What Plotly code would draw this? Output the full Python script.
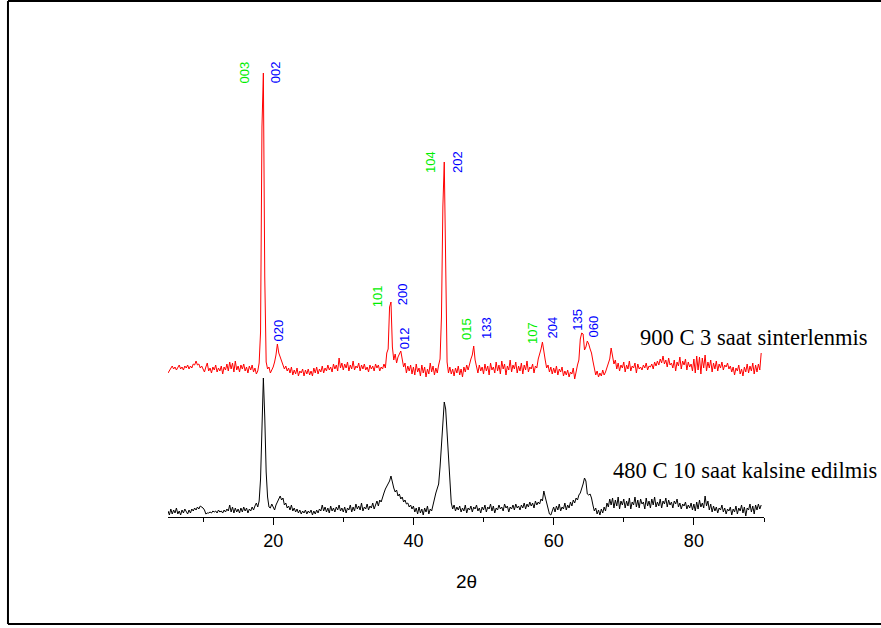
import plotly.graph_objects as go

# 2-theta grid: start and step of the measured points
theta_start = 5.0
theta_step = 0.2

# 900 C 3 saat sinterlenmis (intensity, arbitrary units)
red_counts = [
    4, 6, 9, 11, 8, 10, 7, 9, 12, 8, 10, 7, 11, 9, 12, 8, 11, 9, 13, 12, 16, 12, 13, 9, 11,
    8, 5, 10, 14, 6, 9, 4, 10, 7, 12, 5, 9, 6, 11, 3, 10, 7, 13, 6, 15, 8, 14, 5, 16, 7,
    11, 5, 12, 8, 13, 6, 10, 4, 11, 7, 12, 5, 9, 3, 6, 14, 45, 250, 304, 100, 15, 8, 10, 4, 7,
    10, 15, 22, 33, 24, 20, 16, 13, 8, 11, 6, 9, 4, 10, 2, 7, 3, 9, 1, 6, 4, 8, 1, 7, 3,
    8, 2, 6, 1, 9, 4, 10, 3, 8, 5, 11, 4, 9, 6, 12, 7, 10, 5, 13, 8, 12, 6, 19, 9, 14,
    7, 13, 9, 15, 6, 12, 8, 16, 7, 11, 9, 14, 6, 12, 8, 13, 7, 10, 5, 12, 8, 11, 6, 13, 9,
    12, 6, 10, 8, 13, 9, 24, 28, 70, 75, 30, 17, 23, 14, 20, 24, 26, 18, 10, 14, 4, 11, 6, 12, 3,
    10, 2, 13, 5, 9, 1, 12, 4, 10, 0, 8, 3, 14, 5, 11, 2, 9, 4, 12, 18, 60, 170, 215, 95, 15,
    4, 10, 3, 8, 1, 9, 4, 11, 2, 8, 0, 10, 5, 12, 7, 14, 18, 22, 31, 17, 9, 4, 12, 6, 10,
    3, 13, 6, 11, 2, 14, 7, 10, 4, 15, 6, 12, 3, 16, 8, 13, 2, 11, 7, 17, 5, 12, 8, 15, 4,
    11, 6, 14, 3, 12, 7, 16, 5, 10, 8, 13, 4, 11, 9, 18, 22, 28, 35, 24, 17, 9, 12, 5, 10, 3,
    9, 4, 11, 2, 8, 5, 10, 1, 6, 2, 7, 0, 5, 3, 9, -2, 6, 12, 17, 38, 44, 43, 27, 30, 36,
    33, 28, 24, 16, 8, 2, 6, 0, 4, 1, 7, 2, 5, 9, 14, 18, 29, 22, 13, 17, 8, 14, 6, 12, 9,
    15, 5, 12, 8, 16, 6, 11, 9, 14, 4, 13, 8, 10, 7, 12, 9, 14, 7, 11, 10, 13, 8, 15, 11, 16,
    12, 18, 14, 21, 13, 17, 10, 19, 12, 14, 9, 17, 6, 15, 11, 20, 8, 16, 12, 18, 7, 15, 10, 13, 6,
    18, 4, 21, 7, 20, 3, 19, 9, 22, 6, 15, 9, 17, 5, 14, 8, 16, 6, 13, 9, 15, 7, 12, 10, 14,
    8, 11, 5, 10, 2, 9, 6, 12, 3, 8, 1, 10, 5, 13, 4, 11, 6, 14, 3, 12, 5, 13, 7, 24,
]

# 480 C 10 saat kalsine edilmis (intensity, arbitrary units)
black_counts = [
    6, 2, 8, 3, 7, 4, 9, 3, 6, 2, 7, 4, 8, 5, 3, 7, 4, 8, 6, 9, 7, 10, 8, 11, 10,
    9, 7, 3, 4, 4, 5, 4, 6, 5, 6, 4, 7, 5, 6, 4, 7, 5, 8, 6, 12, 5, 10, 4, 9, 5,
    8, 4, 9, 5, 10, 6, 9, 4, 8, 6, 10, 7, 11, 14, 10, 16, 38, 85, 139, 100, 45, 20, 10, 9, 13,
    10, 7, 12, 15, 19, 21, 17, 19, 12, 14, 9, 11, 7, 12, 6, 9, 5, 8, 4, 7, 3, 6, 4, 7, 3,
    6, 4, 7, 2, 6, 3, 7, 4, 8, 6, 12, 6, 10, 5, 9, 4, 11, 6, 9, 5, 10, 7, 12, 6, 9,
    5, 10, 4, 9, 7, 12, 5, 10, 6, 13, 8, 11, 7, 14, 6, 10, 8, 13, 7, 11, 9, 14, 8, 12, 16,
    11, 17, 15, 21, 24, 28, 31, 34, 36, 41, 33, 29, 25, 27, 21, 23, 18, 20, 15, 17, 13, 14, 10, 12, 8,
    11, 5, 9, 3, 10, 4, 8, 2, 9, 5, 11, 3, 8, 6, 14, 18, 24, 29, 33, 50, 72, 98, 115, 108, 82,
    58, 28, 14, 8, 12, 6, 10, 7, 11, 5, 9, 6, 12, 4, 9, 7, 11, 5, 10, 8, 12, 6, 9, 4, 10,
    7, 12, 5, 10, 8, 13, 6, 11, 4, 9, 7, 12, 8, 10, 6, 13, 9, 11, 5, 10, 8, 12, 7, 13, 9,
    11, 7, 12, 9, 14, 8, 13, 10, 15, 11, 14, 9, 16, 12, 15, 13, 18, 16, 26, 20, 15, 8, 3, 2, 6,
    10, 5, 11, 7, 13, 6, 10, 8, 14, 7, 12, 9, 15, 11, 17, 14, 19, 17, 22, 24, 28, 33, 39, 36, 23,
    22, 23, 19, 12, 6, 9, 3, 7, 2, 8, 4, 10, 6, 14, 10, 18, 12, 19, 9, 17, 11, 20, 8, 16, 12,
    18, 9, 16, 11, 19, 8, 15, 12, 20, 10, 17, 9, 18, 13, 15, 8, 19, 11, 16, 9, 18, 12, 20, 10, 15,
    11, 18, 9, 16, 13, 19, 10, 17, 12, 15, 9, 16, 13, 18, 10, 14, 8, 13, 11, 15, 8, 12, 9, 14, 7,
    13, 6, 15, 8, 17, 10, 14, 9, 21, 11, 16, 7, 13, 5, 11, 6, 10, 4, 9, 7, 12, 5, 9, 3, 8,
    6, 10, 2, 8, 5, 11, 3, 9, 6, 12, 4, 10, 1, 9, 7, 13, 5, 11, 3, 12, 7, 13, 8, 12,
]

red_offset = 140  # vertical stacking offset of the 900 C pattern

x_ticks = [20, 40, 60, 80]
x_minor_ticks = [10, 30, 50, 70, 90]

# Miller index labels: text, colour group, 2-theta of label, label height (plot units)
hkl_text = ["003", "002", "020", "101", "200", "012", "104", "202",
            "015", "133", "107", "204", "135", "060"]
hkl_phase = ["g", "b", "b", "g", "b", "b", "g", "b",
             "g", "b", "g", "b", "b", "b"]
hkl_theta = [15.9, 20.3, 20.75, 34.85, 38.4, 38.7, 42.35, 46.2,
             47.5, 50.35, 56.9, 59.7, 63.3, 65.55]
hkl_height = [445, 445, 187, 221, 223, 179, 355, 355,
              188, 189, 184, 189, 197, 190]

series_names = ["900 C 3 saat sinterlenmis", "480 C 10 saat kalsine edilmis"]

red_theta = [theta_start + theta_step * i for i in range(len(red_counts))]
black_theta = [theta_start + theta_step * i for i in range(len(black_counts))]

fig = go.Figure()
fig.add_trace(go.Scatter(
    x=red_theta, y=[v + red_offset for v in red_counts], mode="lines",
    line=dict(color="#ff0000", width=1), name=series_names[0], showlegend=False))
fig.add_trace(go.Scatter(
    x=black_theta, y=black_counts, mode="lines",
    line=dict(color="#000000", width=1), name=series_names[1], showlegend=False))

colors = {"g": "#00ee00", "b": "#0000ff"}
for t, ph, xv, yv in zip(hkl_text, hkl_phase, hkl_theta, hkl_height):
    fig.add_annotation(x=xv, y=yv, xref="x", yref="y", text=t, showarrow=False,
                       textangle=-90, xanchor="center", yanchor="middle",
                       font=dict(family="Liberation Sans, Arial", size=13, color=colors[ph]))

fig.add_annotation(x=72.0, y=180, xref="x", yref="y", text=series_names[0],
                   showarrow=False, xanchor="left", yanchor="middle",
                   font=dict(family="Liberation Serif, Times New Roman", size=22.5, color="black"))
fig.add_annotation(x=68.15, y=47, xref="x", yref="y", text=series_names[1],
                   showarrow=False, xanchor="left", yanchor="middle",
                   font=dict(family="Liberation Serif, Times New Roman", size=22.5, color="black"))

fig.add_annotation(x=0.5, y=-0.135, xref="paper", yref="paper", text="2θ",
                   showarrow=False, xanchor="center", yanchor="middle",
                   font=dict(family="Liberation Sans, Arial", size=19, color="black"))

# outer frame: left, top and bottom edges (right edge lies outside the picture)
frame = dict(color="black", width=2)
fig.add_shape(type="line", xref="paper", yref="paper",
              x0=-0.2685, x1=-0.2685, y0=-0.2243, y1=1.0818, line=frame)
fig.add_shape(type="line", xref="paper", yref="paper",
              x0=-0.2685, x1=1.3, y0=1.0818, y1=1.0818, line=frame)
fig.add_shape(type="line", xref="paper", yref="paper",
              x0=-0.2685, x1=1.3, y0=-0.2243, y1=-0.2243, line=frame)

fig.update_layout(
    width=881, height=628, autosize=False,
    margin=dict(l=168, r=117, t=40, b=111),
    paper_bgcolor="white", plot_bgcolor="white",
    xaxis=dict(range=[5, 90], showline=True, linecolor="black", linewidth=1,
               ticks="outside", ticklen=7, tickwidth=1, tickcolor="black",
               tickvals=x_ticks, showgrid=False, zeroline=False,
               tickfont=dict(family="Liberation Sans, Arial", size=18, color="black"),
               minor=dict(tickvals=x_minor_ticks, ticks="outside", ticklen=4,
                          tickcolor="black", tickwidth=1, showgrid=False)),
    yaxis=dict(range=[0, 477], visible=False, showgrid=False, zeroline=False),
)

fig.write_html(
    "out.html", config={"displayModeBar": False},
    post_script="document.body.style.margin='0';document.body.style.overflow='hidden';")
